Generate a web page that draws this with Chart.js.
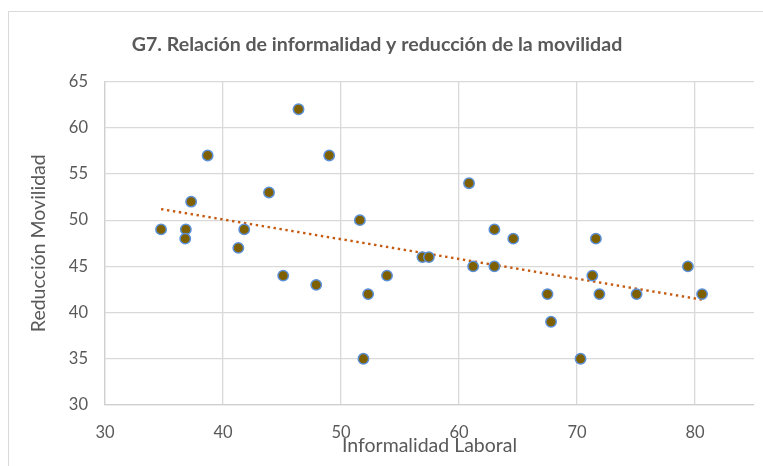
<!DOCTYPE html>
<html>
<head>
<meta charset="utf-8">
<script src="https://cdn.jsdelivr.net/npm/chart.js@4/dist/chart.umd.min.js"></script>
<style>
  html, body { margin: 0; padding: 0; background: #ffffff; }
  #wrap { position: relative; width: 763px; height: 466px; overflow: hidden; }
  #frame { position: absolute; left: 8px; top: 11px; width: 900px; height: 600px; border: 1px solid #d9d9d9; box-sizing: border-box; }
  canvas { position: absolute; left: 0; top: 0; }
</style>
</head>
<body>
<div id="wrap">
  <div id="frame"></div>
  <canvas id="c" width="763" height="466"></canvas>
</div>
<script>
const chartTitle = "G7. Relación de informalidad y reducción de la movilidad";
const xAxisTitle = "Informalidad Laboral";
const yAxisTitle = "Reducción Movilidad";

const informalidad = [46.4, 38.7, 49.0, 43.9, 37.3, 34.75, 36.85, 36.8, 41.8, 41.3, 45.1, 47.9,
  60.85, 51.6, 63.0, 64.6, 56.9, 57.45, 61.2, 63.0, 53.9,
  71.6, 79.4, 71.3, 71.9, 75.05, 80.6, 70.3,
  52.3, 51.9, 67.5, 67.8];
const reduccion = [62, 57, 57, 53, 52, 49, 49, 48, 49, 47, 44, 43,
  54, 50, 49, 48, 46, 46, 45, 45, 44,
  48, 45, 44, 42, 42, 42, 35,
  42, 35, 42, 39];

const xTicks = [30, 40, 50, 60, 70, 80];
const yTicks = [30, 35, 40, 45, 50, 55, 60, 65];

const points = informalidad.map((x, i) => ({ x: x, y: reduccion[i] }));

// Linear trendline (least squares) from the data
const n = points.length;
const mx = informalidad.reduce((a, b) => a + b, 0) / n;
const my = reduccion.reduce((a, b) => a + b, 0) / n;
let sxy = 0, sxx = 0;
for (let i = 0; i < n; i++) { sxy += (informalidad[i] - mx) * (reduccion[i] - my); sxx += (informalidad[i] - mx) ** 2; }
const slope = sxy / sxx;
const intercept = my - slope * mx;
const xMin = Math.min(...informalidad), xMax = Math.max(...informalidad);
const trend = [{ x: xMin, y: intercept + slope * xMin }, { x: xMax, y: intercept + slope * xMax }];

const FONT = "Lato, 'Open Sans', sans-serif";
const grey = '#595959';

new Chart(document.getElementById('c'), {
  type: 'scatter',
  data: {
    datasets: [
      {
        label: 'Datos',
        data: points,
        backgroundColor: '#7f6000',
        borderColor: '#5b8fd6',
        borderWidth: 1.5,
        pointRadius: 5.2,
        order: 1
      },
      {
        label: 'Tendencia',
        type: 'line',
        data: trend,
        borderColor: '#c55a11',
        borderWidth: 2.4,
        borderDash: [2.4, 3.6],
        borderCapStyle: 'butt',
        pointRadius: 0,
        fill: false,
        order: 2
      }
    ]
  },
  options: {
    responsive: false,
    animation: false,
    layout: { padding: { left: 0, right: 9, top: 0, bottom: 0 } },
    plugins: {
      legend: { display: false },
      tooltip: { enabled: false },
      title: {
        display: true,
        text: chartTitle,
        color: '#595959',
        font: { family: FONT, size: 19.6, weight: 'bold' },
        padding: { top: 33, bottom: 25 }
      }
    },
    scales: {
      x: {
        type: 'linear',
        min: 30, max: 85,
        afterBuildTicks: (s) => { s.ticks = xTicks.map(v => ({ value: v })); },
        afterFit: (s) => { s.height = 61; },
        grid: { color: '#d9d9d9', lineWidth: 1.3, drawTicks: false },
        border: { color: '#d0d0d0', width: 1.3 },
        ticks: { color: grey, font: { family: FONT, size: 16.5 }, padding: 18 },
        title: { display: true, text: xAxisTitle, color: grey, font: { family: FONT, size: 19.5 }, padding: { top: 0, bottom: 9 } }
      },
      y: {
        type: 'linear',
        min: 30, max: 65,
        afterBuildTicks: (s) => { s.ticks = yTicks.map(v => ({ value: v })); },
        afterFit: (s) => { s.width = 105; },
        grid: { color: '#d9d9d9', lineWidth: 1.3, drawTicks: false },
        border: { color: '#d0d0d0', width: 1.3 },
        ticks: { color: grey, font: { family: FONT, size: 16.5 }, padding: 17 },
        title: { display: true, text: yAxisTitle, color: grey, font: { family: FONT, size: 19.5 }, padding: { top: 27, bottom: 0 } }
      }
    }
  }
});
</script>
</body>
</html>
